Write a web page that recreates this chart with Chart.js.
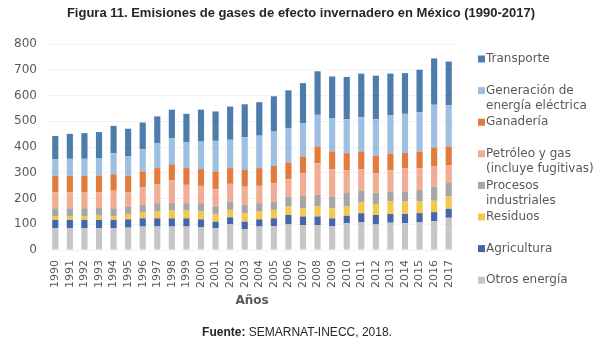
<!DOCTYPE html>
<html>
<head>
<meta charset="utf-8">
<script src="https://cdn.jsdelivr.net/npm/chart.js@4"></script>
<style>
  html, body { margin: 0; padding: 0; background: #ffffff; }
  #wrap { width: 603px; height: 348px; }
</style>
</head>
<body>
<div id="wrap"><canvas id="ghgChart" width="603" height="348"></canvas></div>
<script>
// Emisiones GEI México 1990-2017 (MtCO2e)

const years = ['1990','1991','1992','1993','1994','1995','1996','1997','1998','1999','2000','2001','2002','2003',
               '2004','2005','2006','2007','2008','2009','2010','2011','2012','2013','2014','2015','2016','2017'];

const otrosEnergia = [84,84,85,85,84,87,91,91,91,91,88,84,101,80,91,93,101,97,97,93,104,107,101,106,104,107,112,125];
const agricultura  = [33,33,32,32,33,32,32,32,32,32,31,26,26,30,28,30,35,33,33,30,29,36,35,34,36,36,35,35];
const residuos     = [15,15,15,16,15,21,22,26,30,30,30,30,29,33,30,33,33,32,39,39,36,41,43,48,48,45,44,47];
const procesos     = [30,30,30,30,30,28,30,33,31,29,33,29,32,32,33,32,39,48,45,46,52,47,44,39,39,45,55,53];
const petroleo     = [61,62,61,61,68,55,68,74,86,71,67,67,69,71,67,71,67,88,123,106,88,83,75,82,91,85,80,68];
const ganaderia    = [65,64,65,65,64,65,62,62,63,65,65,69,61,65,69,68,65,65,65,69,67,69,68,65,59,64,72,74];
const generacion   = [65,66,66,66,82,75,86,97,101,101,107,119,110,127,126,133,133,130,123,129,132,133,142,149,152,153,166,160];
const transporte   = [90,97,100,103,106,108,104,104,111,110,124,114,129,128,130,137,147,155,169,162,164,169,169,162,158,165,180,170];

const yTicks = [0, 100, 200, 300, 400, 500, 600, 700, 800];

// stack order, bottom to top
const series = [
    { label: ['Otros energía'], data: otrosEnergia, color: '#c6c6c6' },
    { label: ['Agricultura'], data: agricultura, color: '#4565ad' },
    { label: ['Residuos'], data: residuos, color: '#f4c84a' },
    { label: ['Procesos', 'industriales'], data: procesos, color: '#a6a6a6' },
    { label: ['Petróleo y gas', '(incluye fugitivas)'], data: petroleo, color: '#f1ad93' },
    { label: ['Ganadería'], data: ganaderia, color: '#e27c3e' },
    { label: ['Generación de', 'energía eléctrica'], data: generacion, color: '#9ebfe2' },
    { label: ['Transporte'], data: transporte, color: '#4e7dab' }
];

const TICK_FONT = 'DejaVu Sans';

// title, axis name, source and side legend
const textPlugin = {
    id: 'texts',
    afterDraw(chart) {
        const c = chart.ctx;
        c.save();
        c.textBaseline = 'middle';

        c.fillStyle = '#262626';
        c.textAlign = 'center';
        c.font = 'bold 13px "Liberation Sans", Arial, sans-serif';
        c.fillText('Figura 11. Emisiones de gases de efecto invernadero en México (1990-2017)', 301, 13);

        c.fillStyle = '#595959';
        c.font = 'bold 12px "' + TICK_FONT + '"';
        c.fillText('Años', 252, 301);

        // footer
        c.font = 'bold 12px "Liberation Sans", Arial, sans-serif';
        const f1 = 'Fuente:';
        const f2 = ' SEMARNAT-INECC, 2018.';
        const w1 = c.measureText(f1).width;
        c.font = '12px "Liberation Sans", Arial, sans-serif';
        const w2 = c.measureText(f2).width;
        let x0 = 297 - (w1 + w2) / 2;
        c.textAlign = 'left';
        c.fillStyle = '#262626';
        c.font = 'bold 12px "Liberation Sans", Arial, sans-serif';
        c.fillText(f1, x0, 333);
        c.font = '12px "Liberation Sans", Arial, sans-serif';
        c.fillText(f2, x0 + w1, 333);

        // legend (top = last dataset)
        c.font = '12px "' + TICK_FONT + '"';
        const ds = chart.data.datasets;
        for (let i = 0; i < ds.length; i++) {
            const d = ds[ds.length - 1 - i];
            const y = 59 + i * 31.6;
            c.fillStyle = d.backgroundColor;
            c.fillRect(478, y - 3.5, 7, 7);
            c.fillStyle = '#595959';
            d.label.forEach((line, k) => c.fillText(line, 486, y + k * 15));
        }
        c.restore();
    }
};

const ctx = document.getElementById('ghgChart').getContext('2d');

const ghgChart = new Chart(ctx, {
    type: 'bar',
    data: {
        labels: years,
        datasets: series.map(s => ({
            label: s.label,
            data: s.data,
            backgroundColor: s.color,
            borderWidth: 0,
            categoryPercentage: 0.9,
            barPercentage: 0.47
        }))
    },
    options: {
        responsive: false,
        animation: false,
        layout: { padding: { top: 44, right: 147, bottom: 0, left: 0 } },
        plugins: {
            legend: { display: false },
            title: { display: false },
            tooltip: { enabled: false }
        },
        scales: {
            x: {
                stacked: true,
                grid: { display: false },
                border: { display: false },
                ticks: {
                    color: '#595959',
                    font: { family: TICK_FONT, size: 11 },
                    minRotation: 90,
                    maxRotation: 90,
                    autoSkip: false,
                    padding: 2
                },
                afterFit(scale) { scale.height = 98; }
            },
            y: {
                stacked: true,
                min: 0,
                max: 800,
                afterBuildTicks(scale) { scale.ticks = yTicks.map(v => ({ value: v })); },
                grid: { color: '#f3f3f3', drawTicks: false },
                border: { display: false },
                ticks: {
                    color: '#595959',
                    font: { family: TICK_FONT, size: 12 },
                    padding: 11
                },
                afterFit(scale) { scale.width = 48; }
            }
        }
    },
    plugins: [textPlugin]
});
</script>
</body>
</html>
